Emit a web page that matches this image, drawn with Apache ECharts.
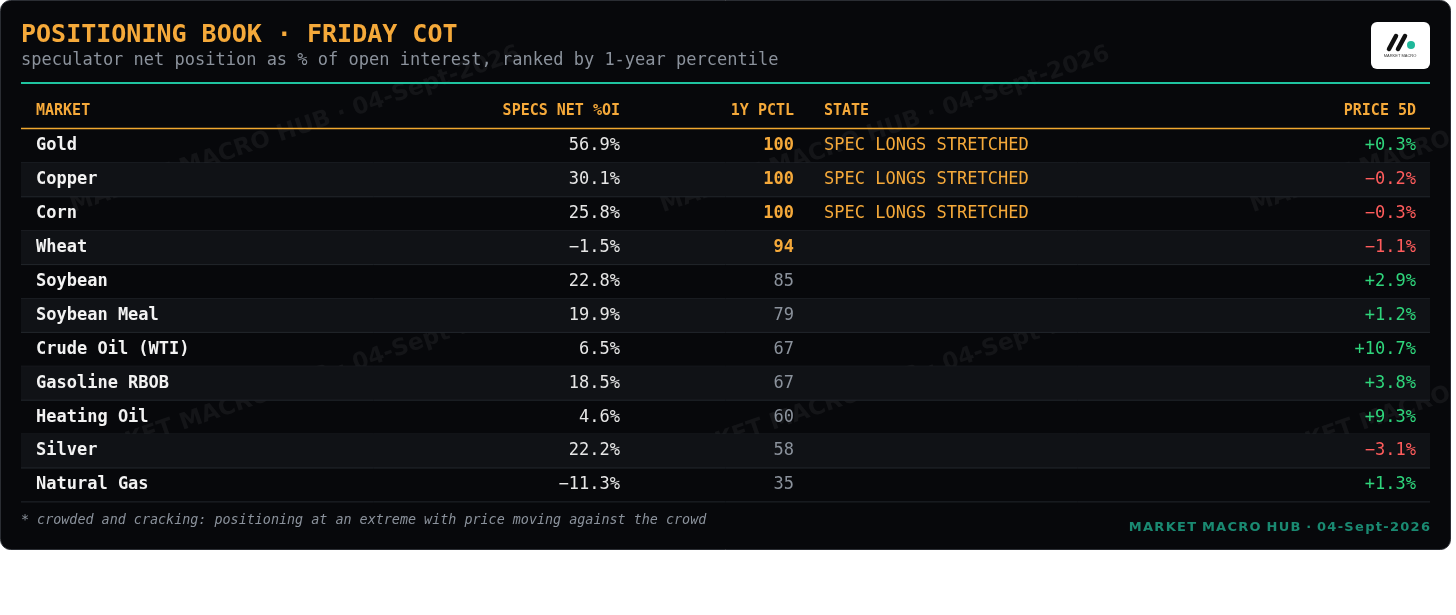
<!DOCTYPE html>
<html><head><meta charset="utf-8">
<script src="https://cdn.jsdelivr.net/npm/echarts@6/dist/echarts.min.js"></script>
<style>html,body{margin:0;background:#fff}#c{width:1456px;height:615px}</style>
</head><body><div id="c"></div>
<script>
var markets = ["Gold","Copper","Corn","Wheat","Soybean","Soybean Meal","Crude Oil (WTI)","Gasoline RBOB","Heating Oil","Silver","Natural Gas"];
var specsNet = [56.9,30.1,25.8,-1.5,22.8,19.9,6.5,18.5,4.6,22.2,-11.3];
var pctl = [100,100,100,94,85,79,67,67,60,58,35];
var states = ["SPEC LONGS STRETCHED","SPEC LONGS STRETCHED","SPEC LONGS STRETCHED","","","","","","","",""];
var price5d = [0.3,-0.2,-0.3,-1.1,2.9,1.2,10.7,3.8,9.3,-3.1,1.3];
var headers = ["MARKET","SPECS NET %OI","1Y PCTL","STATE","PRICE 5D"];

var MONO = "'DejaVu Sans Mono', monospace";
var ORANGE = "#f5a93a";
var g = [];
g.push({type:'rect',shape:{x:0.5,y:0.5,width:1450,height:549,r:10},style:{fill:'#07080b',stroke:'#2a2d33',lineWidth:1}});
// watermarks
[[295,130],[885,130],[1475,130],[295,385],[885,385],[1475,385]].forEach(function(p){
  g.push({type:'text',x:p[0],y:p[1],rotation:0.33,style:{text:'MARKET MACRO HUB · 04-Sept-2026',fill:'rgba(255,255,255,0.055)',font:"bold 23px 'DejaVu Sans', sans-serif",align:'center',verticalAlign:'middle'}});
});
g.push({type:'text',x:21,y:35,style:{text:'POSITIONING BOOK · FRIDAY COT',fill:ORANGE,font:'bold 25px '+MONO,verticalAlign:'middle'}});
g.push({type:'text',x:21,y:61,style:{text:'speculator net position as % of open interest, ranked by 1-year percentile',fill:'#8b929c',font:'17px '+MONO,verticalAlign:'middle'}});
// logo
g.push({type:'rect',shape:{x:1371,y:22,width:59,height:47,r:6},style:{fill:'#ffffff'}});
g.push({type:'line',shape:{x1:1389,y1:49,x2:1396,y2:36},style:{stroke:'#111',lineWidth:4.5,lineCap:'round'}});
g.push({type:'line',shape:{x1:1398,y1:49,x2:1405,y2:36},style:{stroke:'#111',lineWidth:4.5,lineCap:'round'}});
g.push({type:'circle',shape:{cx:1411,cy:45,r:4},style:{fill:'#1fb89a'}});
g.push({type:'text',x:1400,y:56,style:{text:'MARKET MACRO',fill:'#333',font:'4px sans-serif',align:'center',verticalAlign:'middle'}});
g.push({type:'line',shape:{x1:21,y1:83,x2:1430,y2:83},style:{stroke:'#1fc4a0',lineWidth:2}});
var colX = [36,620,794,824,1416], colA = ['left','right','right','left','right'];
headers.forEach(function(h,i){
  g.push({type:'text',x:colX[i],y:111,style:{text:h,fill:ORANGE,font:'bold 15px '+MONO,align:colA[i],verticalAlign:'middle'}});
});
g.push({type:'line',shape:{x1:21,y1:128.5,x2:1430,y2:128.5},style:{stroke:'#f0a830',lineWidth:1.5}});
var y0 = 129, rh = 33.9;
markets.forEach(function(m,i){
  var top = y0 + i*rh, cy = top + rh/2;
  if (i%2===1) g.push({type:'rect',shape:{x:21,y:top,width:1409,height:rh},style:{fill:'#101216'}});
  g.push({type:'line',shape:{x1:21,y1:top+rh,x2:1430,y2:top+rh},style:{stroke:'#22262c',lineWidth:1}});
  var hot = pctl[i] >= 90;
  g.push({type:'text',x:colX[0],y:cy,style:{text:m,fill:'#f2f2f2',font:'bold 17px '+MONO,verticalAlign:'middle'}});
  g.push({type:'text',x:colX[1],y:cy,style:{text:(specsNet[i]<0?'−':'')+Math.abs(specsNet[i]).toFixed(1)+'%',fill:'#e6e6e6',font:'17px '+MONO,align:'right',verticalAlign:'middle'}});
  g.push({type:'text',x:colX[2],y:cy,style:{text:String(pctl[i]),fill:hot?ORANGE:'#8b929c',font:(hot?'bold ':'')+'17px '+MONO,align:'right',verticalAlign:'middle'}});
  g.push({type:'text',x:colX[3],y:cy,style:{text:states[i],fill:ORANGE,font:'17px '+MONO,verticalAlign:'middle'}});
  var p = price5d[i];
  g.push({type:'text',x:colX[4],y:cy,style:{text:(p<0?'−':'+')+Math.abs(p).toFixed(1)+'%',fill:p<0?'#ff5c5c':'#2fd67c',font:'17px '+MONO,align:'right',verticalAlign:'middle'}});
});
g.push({type:'text',x:21,y:521,style:{text:'* crowded and cracking: positioning at an extreme with price moving against the crowd',fill:'#8b929c',font:'italic 13.4px '+MONO,verticalAlign:'middle'}});
g.push({type:'text',x:1430,y:528,style:{text:'M A R K E T  M A C R O  H U B  ·  0 4 - S e p t - 2 0 2 6'.replace(/ (?! )/g,'\u200a'),fill:'#1a8a72',font:"bold 13px 'DejaVu Sans', sans-serif",align:'right',verticalAlign:'middle'}});
var chart = echarts.init(document.getElementById('c'));
chart.setOption({backgroundColor:'#ffffff',graphic:{elements:g}});
</script></body></html>
